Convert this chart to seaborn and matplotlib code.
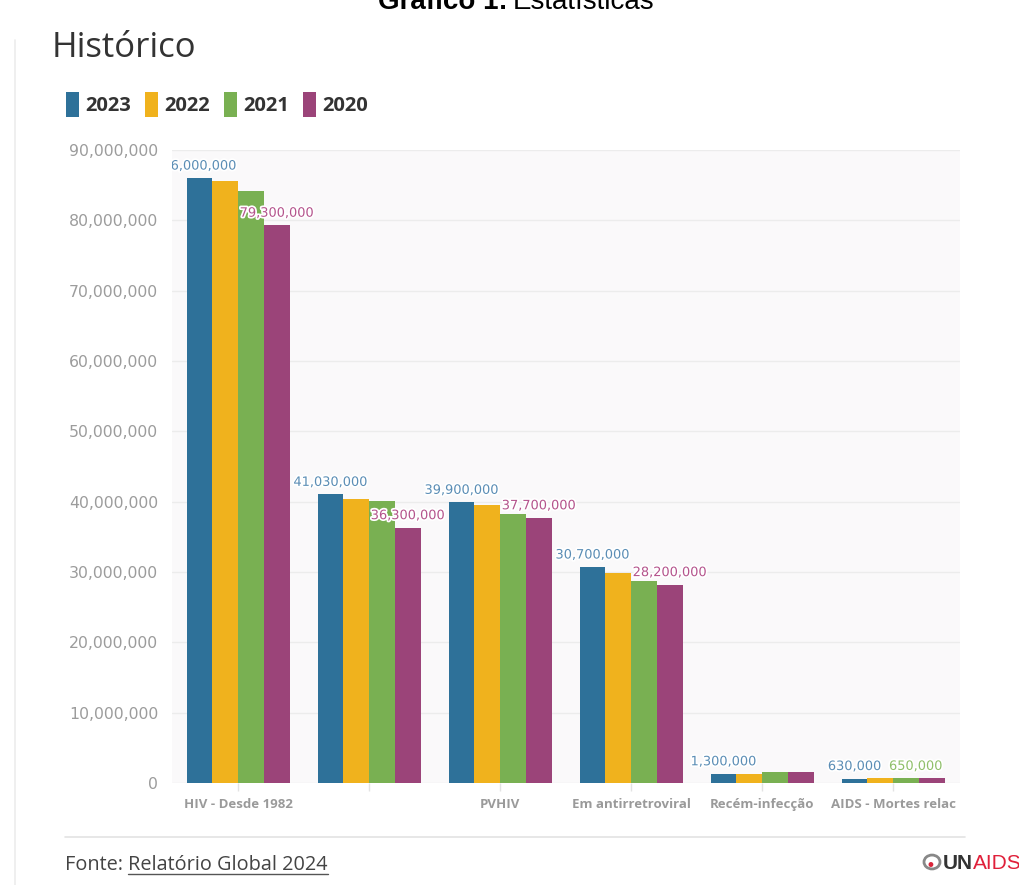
import matplotlib
matplotlib.use("Agg")
import matplotlib.pyplot as plt
import matplotlib.patheffects as pe
from matplotlib.ticker import FuncFormatter
from matplotlib.lines import Line2D
from matplotlib.patches import Circle
import seaborn as sns
import pandas as pd

# ---------------- data ----------------
categories = ["HIV - Desde 1982", "", "PVHIV", "Em antirretroviral",
              "Recém-infecção", "AIDS - Mortes relac"]
years = ["2023", "2022", "2021", "2020"]
v2023 = [86_000_000, 41_030_000, 39_900_000, 30_700_000, 1_300_000, 630_000]
v2022 = [85_600_000, 40_400_000, 39_500_000, 29_800_000, 1_300_000, 640_000]
v2021 = [84_200_000, 40_100_000, 38_200_000, 28_700_000, 1_500_000, 650_000]
v2020 = [79_300_000, 36_300_000, 37_700_000, 28_200_000, 1_500_000, 680_000]
show2023 = [True, True, True, True, True, True]
show2022 = [False, False, False, False, False, False]
show2021 = [False, False, False, False, False, True]
show2020 = [True, True, True, True, False, False]
yticks = [0, 10_000_000, 20_000_000, 30_000_000, 40_000_000,
          50_000_000, 60_000_000, 70_000_000, 80_000_000, 90_000_000]

colors = ["#2e7199", "#f0b21d", "#79b052", "#9b4479"]
label_colors = ["#5a8db5", "#d4a040", "#8fbf6a", "#b4538c"]

series = {"2023": v2023, "2022": v2022, "2021": v2021, "2020": v2020}
shows = [show2023, show2022, show2021, show2020]
df = pd.DataFrame([
    {"cat": c, "ano": y, "valor": series[y][i]}
    for y in years for i, c in enumerate(categories)
])

# ---------------- figure ----------------
sns.set_theme(style="white")
plt.rcParams["font.family"] = ["DejaVu Sans"]

W, H = 1019, 885
fig = plt.figure(figsize=(W / 100, H / 100), dpi=100)
fig.patch.set_facecolor("white")

ax = fig.add_axes([172 / W, 1 - 783 / H, 788 / W, 633 / H])
ax.set_facecolor("#faf9fa")

sns.barplot(data=df, x="cat", y="valor", hue="ano", order=categories,
            hue_order=years, palette=colors, width=0.786, saturation=1,
            ax=ax, legend=True, edgecolor="none", linewidth=0)

ax.set_xlim(-0.504, 5.51)
ax.set_ylim(0, 90_000_000)
ax.set_yticks(yticks)
ax.yaxis.set_major_formatter(FuncFormatter(lambda v, p: f"{int(v):,}"))
ax.grid(axis="y", color="#ececec", linewidth=1.0)
ax.set_axisbelow(True)
for s in ax.spines.values():
    s.set_visible(False)
ax.set_xlabel("")
ax.set_ylabel("")
ax.tick_params(axis="y", length=8, width=1, color="#e6e6e6", pad=2,
               labelsize=11.3, labelcolor="#9c9c9c")
ax.tick_params(axis="x", length=6, width=1, color="#e3e3e3", pad=5,
               labelsize=9.5, labelcolor="#9a9a9a", bottom=True)
ax.set_xticks(range(len(categories)))
ax.set_xticklabels(categories, fontweight="bold", family=["Open Sans"])

# value labels
for k, (cont, show, lc) in enumerate(zip(ax.containers, shows, label_colors)):
    for bar, sh in zip(cont, show):
        if not sh:
            continue
        h = bar.get_height()
        if k == 2:  # 2021 label sits right of the 2023 one
            xy, dx, ha = (bar.get_x(), h), -3, "left"
        else:
            xy, dx, ha = (bar.get_x() + bar.get_width() / 2, h), 0, "center"
        t = ax.annotate(f"{int(h):,}", xy, xytext=(dx, 4),
                        textcoords="offset points", ha=ha, va="bottom",
                        fontsize=9.3, color=lc, annotation_clip=False)
        t.set_clip_on(True)
        t.set_clip_path(ax.patch)
        t.set_path_effects([pe.withStroke(linewidth=2.5, foreground="white")])

# legend
handles, labels = ax.get_legend_handles_labels()
ax.get_legend().remove()
leg = fig.legend(handles, labels, loc="upper left",
                 bbox_to_anchor=(66 / W, 1 - 92 / H), ncol=4, frameon=False,
                 handlelength=0.65, handleheight=1.5, handletextpad=0.3,
                 columnspacing=0.7, borderpad=0, borderaxespad=0,
                 prop={"family": "Open Sans", "weight": "bold", "size": 14.5})
for t in leg.get_texts():
    t.set_color("#333333")

# titles
fig.text(52 / W, 1 - 57 / H, "Histórico", fontsize=25, family="Open Sans",
         color="#333333", va="baseline", ha="left")
fig.text(508 / W, 1 - 9 / H, "Gráfico 1:", fontsize=20, fontweight="bold",
         family="Liberation Sans", color="black", va="baseline", ha="right")
fig.text(513 / W, 1 - 9 / H, "Estatísticas", fontsize=20,
         family="Liberation Sans", color="black", va="baseline", ha="left")

# frame line on the left and footer separator
fig.add_artist(Line2D([15 / W, 15 / W], [0, 1 - 40 / H], color="#ececec",
                      linewidth=1.2, transform=fig.transFigure))
fig.add_artist(Line2D([65 / W, 965 / W], [1 - 837 / H, 1 - 837 / H],
                      color="#e3e3e3", linewidth=1.2, transform=fig.transFigure))

# footer
t1 = fig.text(65 / W, 1 - 870 / H, "Fonte: ", fontsize=14.3, family="Open Sans",
              color="#444444", va="baseline", ha="left")
fig.canvas.draw()
r = fig.canvas.get_renderer()
bb = t1.get_window_extent(r)
t2 = fig.text(bb.x1 / W, 1 - 870 / H, "Relatório Global 2024", fontsize=14.3,
              family="Open Sans", color="#444444", va="baseline", ha="left")
fig.canvas.draw()
bb2 = t2.get_window_extent(r)
uy = 1 - 874 / H
fig.add_artist(Line2D([bb2.x0 / W, bb2.x1 / W], [uy, uy], color="#555555",
                      linewidth=1, transform=fig.transFigure))

# UNAIDS mark
fig.add_artist(Circle((932 / W, 1 - 862 / H), 8 / W, transform=fig.transFigure,
                      facecolor="none", edgecolor="#888888", linewidth=2))
fig.text(930 / W, 1 - 866 / H, "\u2022", fontsize=12, color="#d9253a",
         ha="center", va="center")
t3 = fig.text(943 / W, 1 - 869 / H, "UN", fontsize=15, fontweight="bold",
              family="Liberation Sans", color="#333333", va="baseline", ha="left")
fig.canvas.draw()
bb3 = t3.get_window_extent(r)
fig.text(bb3.x1 / W, 1 - 869 / H, "AIDS", fontsize=15,
         family="Liberation Sans", color="#e0203a", va="baseline", ha="left")

fig.savefig("out.png", dpi=100)
